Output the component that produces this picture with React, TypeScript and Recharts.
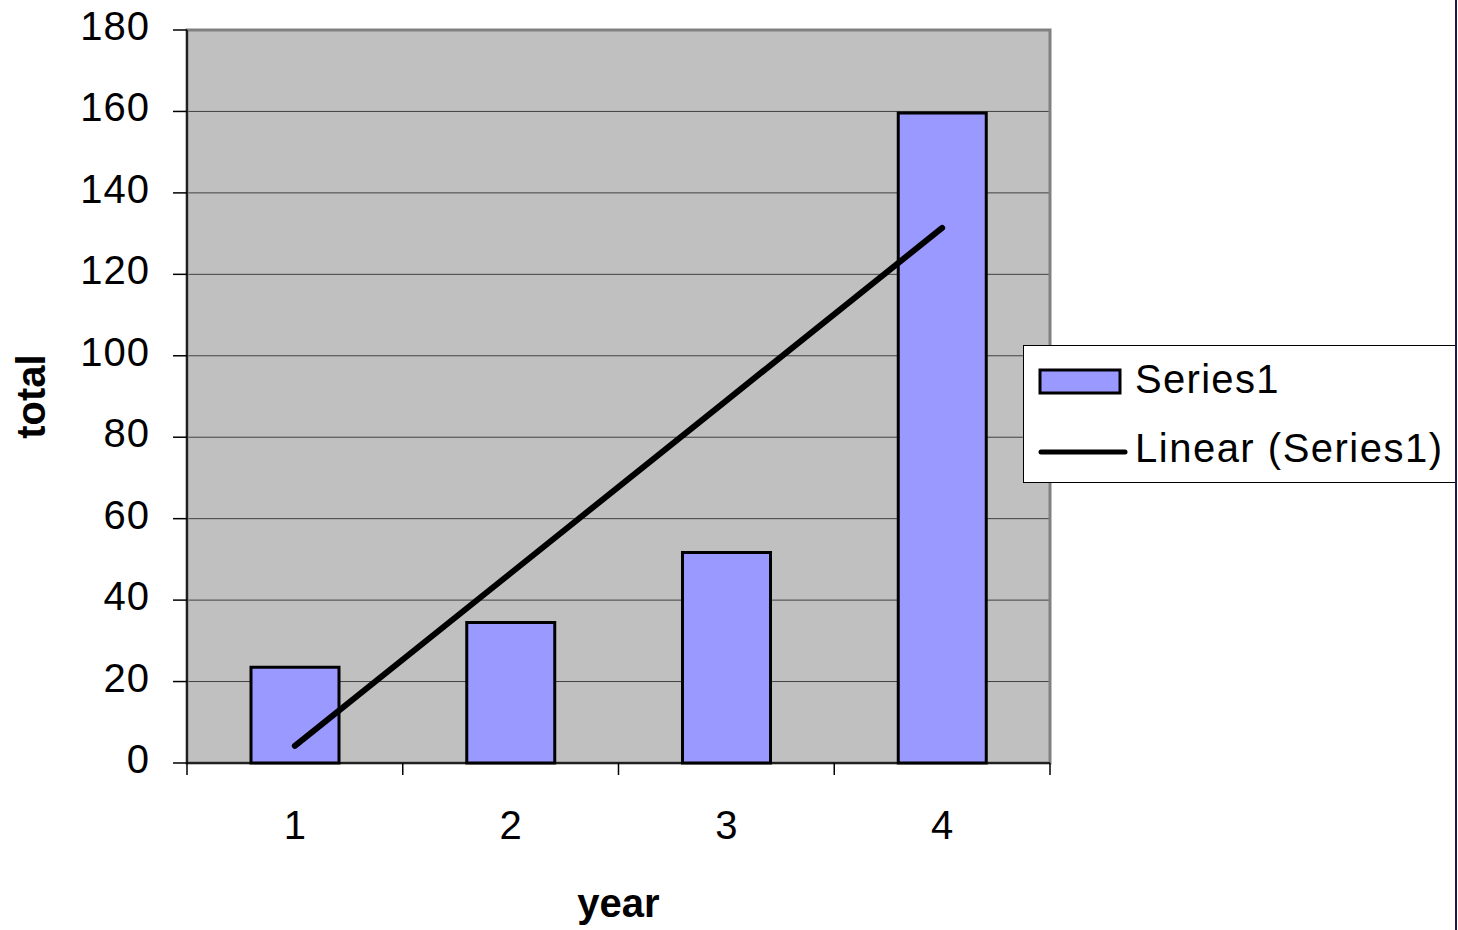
import React from 'react'
import {
  ComposedChart,
  Bar,
  Line,
  XAxis,
  YAxis,
  CartesianGrid,
  ReferenceArea,
  Legend,
  Label
} from 'recharts'

const years = ['1', '2', '3', '4']
const totals = [23.5, 34.5, 51.7, 159.6]
const trendValues = [4.2, 46.6, 89, 131.4]
const yTicks = [0, 20, 40, 60, 80, 100, 120, 140, 160, 180]

const data = years.map((year, i) => ({
  year,
  total: totals[i],
  trend: trendValues[i]
}))

const W = 1458
const H = 930
const PLOT_LEFT = 187
const PLOT_RIGHT = 1050
const PLOT_TOP = 30
const PLOT_BOTTOM = 763
const FONT = '"Liberation Sans", Arial, Helvetica, sans-serif'
const HALF_BAND = (PLOT_RIGHT - PLOT_LEFT) / years.length / 2
const X_TICK = 12

const XTick = ({ x, y, payload, index }: any) => {
  const axisY = y - X_TICK
  const isLast = index === years.length - 1
  return (
    <g>
      <line x1={x - HALF_BAND} x2={x - HALF_BAND} y1={axisY} y2={axisY + X_TICK} stroke="#000" strokeWidth={1.5} />
      {isLast && (
        <line x1={x + HALF_BAND} x2={x + HALF_BAND} y1={axisY} y2={axisY + X_TICK} stroke="#000" strokeWidth={1.5} />
      )}
      <text x={x} y={axisY + 76} textAnchor="middle" fontSize={40} fontFamily={FONT} fill="#000">
        {payload.value}
      </text>
    </g>
  )
}

const YTick = ({ x, y, payload }: any) => (
  <text x={x} y={y + 10} textAnchor="end" fontSize={40} letterSpacing={1} fontFamily={FONT} fill="#000">
    {payload.value}
  </text>
)

const YTitle = ({ viewBox }: any) => {
  const cx = 45
  const cy = viewBox.y + viewBox.height / 2
  return (
    <text
      x={cx}
      y={cy}
      textAnchor="middle"
      fontSize={40}
      fontWeight="bold"
      fontFamily={FONT}
      fill="#000"
      transform={`rotate(-90, ${cx}, ${cy})`}
    >
      total
    </text>
  )
}

const XTitle = ({ viewBox }: any) => (
  <text
    x={viewBox.x + viewBox.width / 2}
    y={917}
    textAnchor="middle"
    fontSize={40}
    fontWeight="bold"
    fontFamily={FONT}
    fill="#000"
  >
    year
  </text>
)

const LegendBox = () => (
  <div
    style={{
      width: 433,
      height: 138,
      boxSizing: 'border-box',
      border: '1.5px solid #000',
      background: '#fff'
    }}
  >
    <svg width={433} height={138} style={{ display: 'block', marginTop: -1.5, marginLeft: -1.5 }}>
      <rect x={17} y={25} width={80} height={23} fill="#9999FF" stroke="#000" strokeWidth={3} />
      <text x={112} y={48} fontSize={40} letterSpacing={1.3} fontFamily={FONT} fill="#000">
        Series1
      </text>
      <line x1={18} x2={102} y1={107} y2={107} stroke="#000" strokeWidth={5} strokeLinecap="round" />
      <text x={112} y={117} fontSize={40} letterSpacing={1.5} fontFamily={FONT} fill="#000">
        Linear (Series1)
      </text>
    </svg>
  </div>
)

const App = () => {
  return (
    <div style={{ position: 'absolute', left: 0, top: 0, width: W, height: H, background: '#fff' }}>
      <ComposedChart
        width={W}
        height={H}
        data={data}
        margin={{ top: PLOT_TOP, right: W - PLOT_RIGHT, bottom: 0, left: 0 }}
      >
        <CartesianGrid vertical={false} fill="#C0C0C0" stroke="#404040" strokeWidth={1} />
        <ReferenceArea y1={0} y2={180} fill="none" stroke="#808080" strokeWidth={3} fillOpacity={0} />
        <XAxis
          dataKey="year"
          height={H - PLOT_BOTTOM}
          tickLine={false}
          tickSize={X_TICK}
          tickMargin={0}
          tick={<XTick />}
          axisLine={{ stroke: '#000', strokeWidth: 1.5 }}
          interval={0}
        >
          <Label content={<XTitle />} />
        </XAxis>
        <YAxis
          width={PLOT_LEFT}
          domain={[0, 180]}
          ticks={yTicks}
          interval={0}
          tickSize={14}
          tickMargin={23}
          tick={<YTick />}
          tickLine={{ stroke: '#000', strokeWidth: 1.5 }}
          axisLine={{ stroke: '#000', strokeWidth: 1.5 }}
        >
          <Label content={<YTitle />} />
        </YAxis>
        <Legend
          layout="vertical"
          align="center"
          verticalAlign="middle"
          content={<LegendBox />}
          wrapperStyle={{ left: 1023, top: 345, width: 433, height: 138 }}
        />
        <Bar
          dataKey="total"
          name="Series1"
          barSize={88}
          fill="#9999FF"
          stroke="#000"
          strokeWidth={3}
          isAnimationActive={false}
        />
        <Line
          dataKey="trend"
          name="Linear (Series1)"
          stroke="#000"
          strokeWidth={6}
          strokeLinecap="round"
          dot={false}
          activeDot={false}
          isAnimationActive={false}
        />
      </ComposedChart>
      <div style={{ position: 'absolute', left: 1455, top: 0, width: 2, height: H, background: '#1c1c4c' }} />
    </div>
  )
}

export default App
